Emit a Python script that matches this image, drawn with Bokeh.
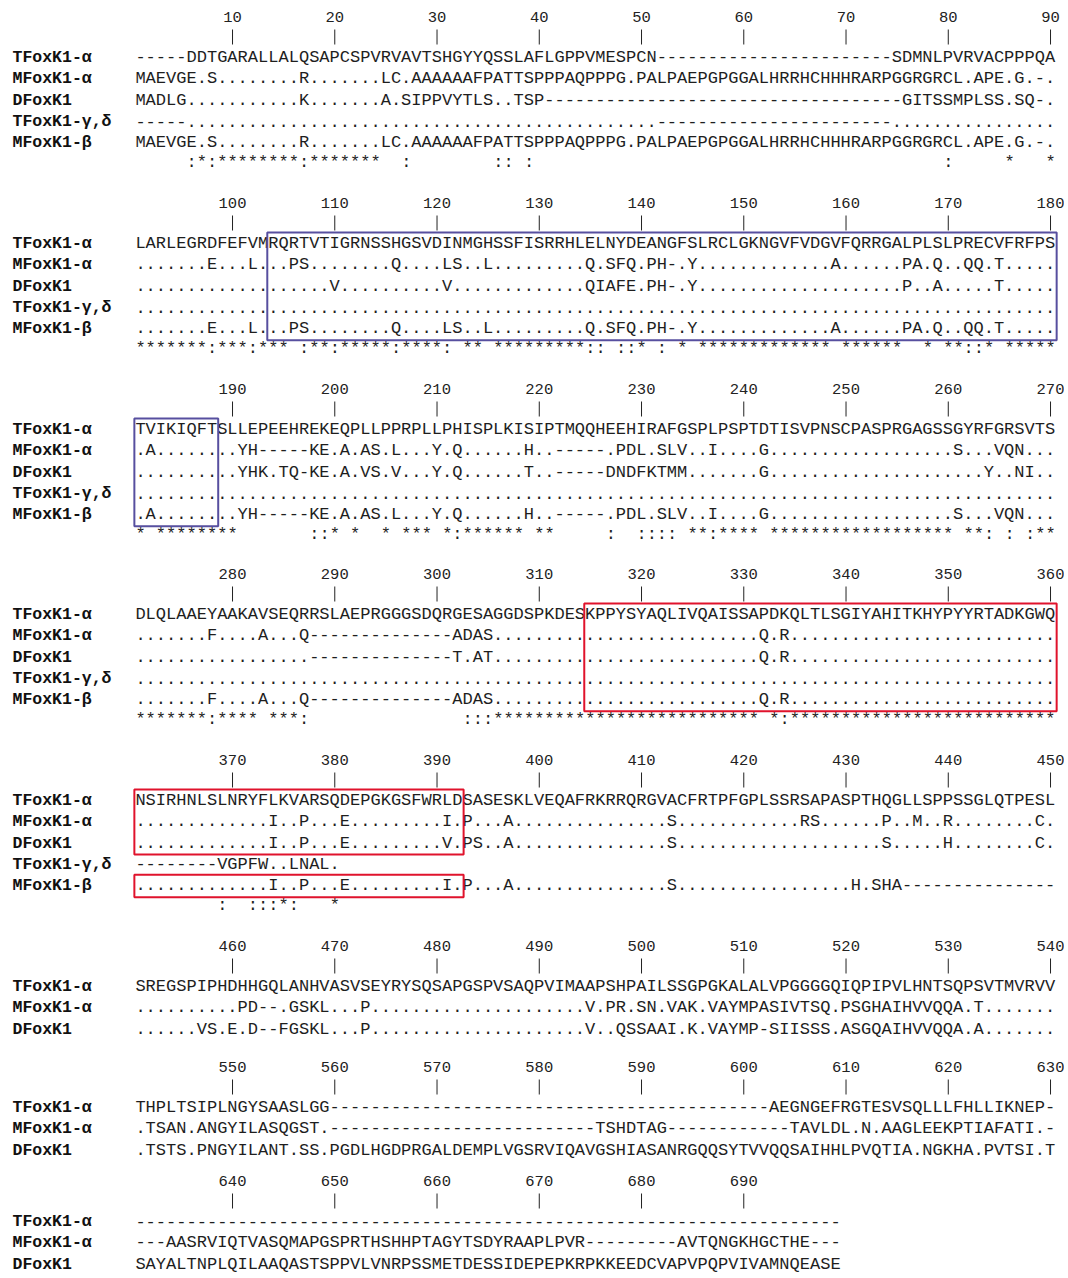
from bokeh.plotting import figure
from bokeh.models import Range1d, ColumnDataSource
from bokeh.embed import file_html
from bokeh.resources import INLINE
from bokeh.core.properties import value

# ---------------- data ----------------
ROW_NAMES = ["TFoxK1-\u03b1", "MFoxK1-\u03b1", "DFoxK1", "TFoxK1-\u03b3,\u03b4", "MFoxK1-\u03b2"]
BLOCK_START = [1, 91, 181, 271, 361, 451, 541, 631]

D10 = ".........."
G10 = "----------"

TFOXK1_A = [
    "-----DDTGARALLALQSAPCSPVRVAVTSHGYYQSSLAFLGPPVMESPCN" + G10 + G10 + "---" + "SDMNLPVRVACPPPQA",
    "LARLEGRDFEFVMRQRTVTIGRNSSHGSVDINMGHSSFISRRHLELNYDEANGFSLRCLGKNGVFVDGVFQRRGALPLSLPRECVFRFPS",
    "TVIKIQFTSLLEPEEHREKEQPLLPPRPLLPHISPLKISIPTMQQHEEHIRAFGSPLPSPTDTISVPNSCPASPRGAGSSGYRFGRSVTS",
    "DLQLAAEYAAKAVSEQRRSLAEPRGGGSDQRGESAGGDSPKDESKPPYSYAQLIVQAISSAPDKQLTLSGIYAHITKHYPYYRTADKGWQ",
    "NSIRHNLSLNRYFLKVARSQDEPGKGSFWRLDSASESKLVEQAFRKRRQRGVACFRTPFGPLSSRSAPASPTHQGLLSPPSSGLQTPESL",
    "SREGSPIPHDHHGQLANHVASVSEYRYSQSAPGSPVSAQPVIMAAPSHPAILSSGPGKALALVPGGGGQIQPIPVLHNTSQPSVTMVRVV",
    "THPLTSIPLNGYSAASLGG" + G10 + G10 + G10 + G10 + "---" + "AEGNGEFRGTESVSQLLLFHLLIKNEP-",
    G10 + G10 + G10 + G10 + G10 + G10 + "---------",
]

MFOXK1_A = [
    "MAEVGE" + "." + "S" + "........" + "R" + "......." + "LC" + "." + "AAAAAAFPATTSPPPAQPPPG" + "."
    + "PALPAEPGPGGALHRRHCHHHRARPGGRGRCL" + "." + "APE" + "." + "G" + "." + "-" + ".",
    "......." + "E" + "..." + "L" + "..." + "PS" + "........" + "Q" + "...." + "LS" + ".." + "L" + "........."
    + "Q.SFQ.PH-.Y" + "............." + "A" + "......" + "PA.Q..QQ.T" + ".....",
    ".A" + "........" + "YH" + "-----" + "KE.A.AS.L...Y.Q" + "......" + "H..-----" + ".PDL.SLV..I....G"
    + D10 + "........" + "S...VQN...",
    "......." + "F" + "...." + "A" + "..." + "Q" + G10 + "----" + "ADAS" + D10 + D10 + "......" + "Q.R"
    + D10 + D10 + "......",
    D10 + "..." + "I" + ".." + "P" + "..." + "E" + "........." + "I" + "." + "P" + "..." + "A" + D10 + "....."
    + "S" + D10 + ".." + "RS" + "......" + "P" + ".." + "M" + ".." + "R" + "........" + "C" + ".",
    D10 + "PD--.GSKL...P" + D10 + D10 + "." + "V.PR.SN.VAK.VAYMPASIVTSQ.PSGHAIHVVQQA.T" + ".......",
    ".TSAN.ANGYILASQGST." + G10 + G10 + "------" + "TSHDTAG" + G10 + "--" + "TAVLDL.N.AAGLEEKPTIAFATI.-",
    "---AASRVIQTVASQMAPGSPRTHSHHPTAGYTSDYRAAPLPVR" + "---------" + "AVTQNGKHGCTHE---",
]

DFOXK1 = [
    "MADLG" + D10 + "." + "K" + "......." + "A.SIPPVYTLS..TSP" + G10 + G10 + G10 + "-----" + "GITSSMPLSS.SQ-.",
    D10 + "........." + "V" + D10 + "V" + D10 + "..." + "QIAFE.PH-.Y" + D10 + D10 + "P..A.....T" + ".....",
    D10 + "YHK.TQ-KE.A.VS.V...Y.Q" + "......" + "T..-----" + "DNDFKTMM" + "......." + "G" + D10 + D10 + "."
    + "Y..NI..",
    D10 + "......." + G10 + "----" + "T.AT" + D10 + D10 + "......" + "Q.R" + D10 + D10 + "......",
    D10 + "..." + "I" + ".." + "P" + "..." + "E" + "........." + "V" + "." + "PS" + ".." + "A" + D10 + "....."
    + "S" + D10 + D10 + "S" + "....." + "H" + "........" + "C" + ".",
    "......" + "VS.E.D--FGSKL...P" + D10 + D10 + "." + "V..QSSAAI.K.VAYMP-SIISSS.ASGQAIHVVQQA.A" + ".......",
    ".TSTS.PNGYILANT.SS.PGDLHGDPRGALDEMPLVGSRVIQAVGSHIASANRGQQSYTVVQQSAIHHLPVQTIA.NGKHA.PVTSI.T",
    "SAYALTNPLQILAAQASTSPPVLVNRPSSMETDESSIDEPEPKRPKKEEDCVAPVPQPVIVAMNQEASE",
]

TFOXK1_GD = [
    "-----" + D10 + D10 + D10 + D10 + "......" + G10 + G10 + "---" + D10 + "......",
    D10 * 9,
    D10 * 9,
    D10 * 9,
    "--------VGPFW..LNAL.",
]

MFOXK1_B = MFOXK1_A[:4] + [
    D10 + "..." + "I" + ".." + "P" + "..." + "E" + "........." + "I" + "." + "P" + "..." + "A" + D10 + "....."
    + "S" + D10 + "......." + "H.SHA" + G10 + "-----",
]

# consensus symbols: (first column, run of symbols)
CONSENSUS = [
    [(6, ":*:********:*******"), (27, ":"), (36, "::"), (39, ":"), (80, ":"), (86, "*"), (90, "*")],
    [(1, "*******:***:***"), (17, ":**:*****:****:"), (33, "**"), (36, "*********::"), (48, "::*"),
     (52, ":"), (54, "*"), (56, "*************"), (70, "******"), (78, "*"), (80, "**::*"), (86, "*****")],
    [(1, "*"), (3, "********"), (18, "::*"), (22, "*"), (25, "*"), (27, "***"), (31, "*:******"),
     (40, "**"), (47, ":"), (50, "::::"), (55, "**:****"), (63, "******************"), (82, "**:"),
     (86, ":"), (88, ":**")],
    [(1, "*******:****"), (14, "***:"), (33, ":::**************************"), (63, "*:"),
     (65, "**************************")],
    [(9, ":"), (12, ":::*:"), (20, "*")],
]

# boxed regions: (block, first col, last col, first row, last row, colour)
BLUE, RED = "#574f9f", "#e0132c"
BOXES = [
    (1, 14, 90, 0, 4, BLUE),
    (2, 1, 8, 0, 4, BLUE),
    (3, 45, 90, 0, 4, RED),
    (4, 1, 32, 0, 2, RED),
    (4, 1, 32, 4, 4, RED),
]

# ---------------- layout ----------------
W, H = 1064, 1276
PITCH = 10.225          # px per alignment column
X_COL1 = 140.0          # page x of column 1 centre
BLOCK_Y = [16, 202, 388, 573, 759, 945, 1066, 1180]   # page y of position numbers
ROW_OFF, ROW_STEP, CONS_OFF = 41.0, 21.3, 19.5
SEQ_FONT = "Liberation Mono"
SEQ_SIZE = "%.2fpx" % (PITCH / 0.6)


def col_of(px):
    return (px - X_COL1) / PITCH + 1


def row_y(b, r):
    return BLOCK_Y[b] + ROW_OFF + ROW_STEP * r


p = figure(width=W, height=H, x_range=Range1d(col_of(0), col_of(W)),
           y_range=Range1d(H, 0), output_backend="svg", toolbar_location=None,
           x_axis_type=None, y_axis_type=None, min_border=0)
p.grid.visible = False
p.outline_line_color = None
p.background_fill_color = "white"
p.border_fill_color = "white"

seq = dict(x=[], y=[], text=[])
lab = dict(x=[], y=[], text=[])
cons = dict(x=[], y=[], text=[])
tick = dict(x=[], y=[], text=[], y0=[], y1=[])

for b, start in enumerate(BLOCK_START):
    rows = [TFOXK1_A[b], MFOXK1_A[b], DFOXK1[b]]
    names = ROW_NAMES[:3]
    if b < len(TFOXK1_GD):
        rows += [TFOXK1_GD[b], MFOXK1_B[b]]
        names = ROW_NAMES
    ncols = max(len(s) for s in rows)
    for r, (nm, s) in enumerate(zip(names, rows)):
        seq["x"].append(0.5)
        seq["y"].append(row_y(b, r))
        seq["text"].append(s)
        lab["x"].append(col_of(12))
        lab["y"].append(row_y(b, r))
        lab["text"].append(nm)
    for c in range(10, ncols + 1, 10):
        tick["x"].append(c)
        tick["y"].append(BLOCK_Y[b])
        tick["text"].append(str(start + c - 1))
        tick["y0"].append(BLOCK_Y[b] + 13)
        tick["y1"].append(BLOCK_Y[b] + 28)
    if b < len(CONSENSUS):
        for c0, run in CONSENSUS[b]:
            cons["x"].append(c0 - 0.5)
            cons["y"].append(row_y(b, 4) + CONS_OFF)
            cons["text"].append(run)

p.text(x="x", y="y", text="text", source=ColumnDataSource(seq), text_font=value(SEQ_FONT),
       text_font_size=SEQ_SIZE, text_color="#1e1e1e", text_align="left", text_baseline="middle")
p.text(x="x", y="y", text="text", source=ColumnDataSource(cons), text_font=value(SEQ_FONT),
       text_font_size=SEQ_SIZE, text_color="#1e1e1e", text_align="left", text_baseline="middle")
p.text(x="x", y="y", text="text", source=ColumnDataSource(lab), text_font=value(SEQ_FONT),
       text_font_size="16.5px", text_font_style="bold", text_color="#111111",
       text_align="left", text_baseline="middle")
tsrc = ColumnDataSource(tick)
p.text(x="x", y="y", text="text", source=tsrc, text_font=value(SEQ_FONT),
       text_font_size="15.5px", text_color="#222222", text_align="center", text_baseline="middle")
p.segment(x0="x", x1="x", y0="y0", y1="y1", source=tsrc, line_color="#222222", line_width=1)

bx = dict(left=[], right=[], top=[], bottom=[], color=[])
for b, c0, c1, r0, r1, col in BOXES:
    bx["left"].append(c0 - 0.6)
    bx["right"].append(c1 + 0.6)
    bx["top"].append(row_y(b, r0) - 11)
    bx["bottom"].append(row_y(b, r1) + 11.5)
    bx["color"].append(col)
p.quad(left="left", right="right", top="top", bottom="bottom", source=ColumnDataSource(bx),
       fill_alpha=0, line_color="color", line_width=2)

open("out.html", "w").write(file_html(p, INLINE))
